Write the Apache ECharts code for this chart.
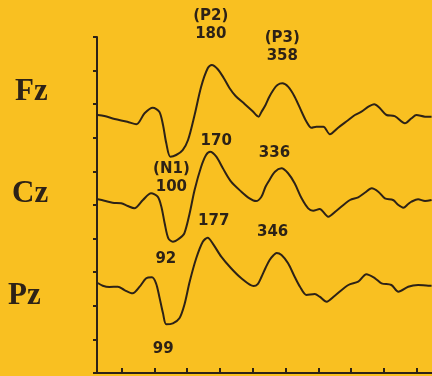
<!DOCTYPE html>
<html><head><meta charset="utf-8">
<script src="https://cdn.jsdelivr.net/npm/echarts@6/dist/echarts.min.js"></script>
<style>html,body{margin:0;padding:0;background:#F9C021}#c{width:432px;height:376px}</style>
</head><body><div id="c"></div>
<script>
// ---- data (latency in ms, amplitude in arbitrary µV units, positive up) ----
const channels = ['Fz', 'Cz', 'Pz'];

const fzTime = [-98, -82, -57, -26, -4, 16, 36, 52, 61, 69, 79, 93, 109, 122, 138, 154, 170, 180, 194, 209, 223, 238, 260, 279, 294, 301, 311, 320, 330, 340, 352, 366, 382, 399, 411, 423, 435, 452, 468, 488, 513, 529, 545, 562, 576, 590, 606, 626, 651, 667, 679, 700, 716];
const fzAmp  = [0, -0.13, -0.5, -0.84, -1.16, 0.21, 0.91, 0.41, -1.25, -3.54, -5.21, -5.0, -4.38, -3.13, 0, 3.54, 5.84, 6.25, 5.75, 4.63, 3.38, 2.38, 1.38, 0.5, -0.21, 0.38, 1.25, 2.25, 3.13, 3.75, 3.96, 3.54, 2.29, 0.41, -0.84, -1.59, -1.46, -1.46, -2.41, -1.59, -0.63, 0, 0.41, 1.04, 1.34, 0.84, 0, -0.13, -1.04, -0.41, 0, -0.21, -0.21];

const czTime = [-98, -82, -62, -41, -25, -9, 12, 32, 48, 57, 65, 74, 85, 101, 113, 126, 138, 154, 166, 176, 191, 207, 227, 252, 272, 288, 301, 311, 318, 334, 350, 366, 382, 399, 415, 427, 443, 464, 484, 517, 537, 553, 570, 586, 602, 622, 635, 647, 659, 667, 683, 700, 716];
const czAmp  = [0.09, -0.09, -0.34, -0.41, -0.75, -1.04, 0, 0.84, 0.41, -0.84, -2.91, -4.79, -5.21, -4.79, -4.16, -1.66, 1.25, 4.16, 5.63, 6.04, 5.41, 3.96, 2.29, 1.04, 0.21, -0.13, 0.41, 1.66, 2.29, 3.54, 3.96, 3.34, 2.09, 0.21, -1.04, -1.34, -1.13, -2.09, -1.34, 0, 0.34, 0.91, 1.46, 1.04, 0.21, 0, -0.63, -0.96, -0.5, -0.21, 0.09, -0.13, 0];

const pzTime = [-98, -86, -70, -49, -33, -13, 4, 20, 34, 44, 52, 61, 69, 85, 101, 113, 126, 142, 158, 170, 182, 203, 227, 252, 282, 292, 301, 311, 321, 331, 338, 350, 366, 382, 395, 411, 431, 443, 460, 480, 513, 537, 557, 578, 594, 618, 635, 659, 683, 708, 716];
const pzAmp  = [0, -0.34, -0.5, -0.46, -0.88, -1.29, -0.46, 0.59, 0.71, -0.04, -1.71, -3.79, -5.16, -5.04, -4.41, -2.75, 0.16, 3.09, 5.16, 5.66, 4.96, 3.29, 1.84, 0.59, -0.38, -0.13, 0.75, 1.88, 2.88, 3.5, 3.75, 3.5, 2.46, 0.79, -0.46, -1.5, -1.38, -1.71, -2.34, -1.59, -0.25, 0.16, 1.09, 0.59, -0.04, -0.25, -1.09, -0.46, -0.25, -0.34, -0.34];

// peak annotations (text and latency of the marked peak in the trace)
const fzNoteText = ['(P2)\n180', '(P3)\n358', '(N1)\n100'];
const fzNoteAt   = [180, 352, 79];
const czNoteText = ['170', '336', '92'];
const czNoteAt   = [176, 350, 85];
const pzNoteText = ['177', '346', '99'];
const pzNoteAt   = [170, 338, 69];

// axis ticks
const xTicks = [-40, 40, 120, 200, 280, 360, 440, 520, 600, 680];
const xMin = -100, xMax = 717;
const yTickCount = 10;

// ---- layout / style (not data) ----
const INK = '#2d2217';
const GRID = {left: 97, right: 0, top: 37, bottom: 3};
const PLOT_H = 376 - GRID.top - GRID.bottom;
const PX_PER_UV = 8;
const baselinePx = [115, 200, 283]; // baseline of each trace, from top of canvas
const labelPx = [[15, 92], [12, 194], [8, 296]];
const noteOffsets = [
  [[-1, -40], [0, -36], [1, 21]],
  [[6, -11], [-7, -15], [-7, 17]],
  [[6, -17], [-4, -21], [-3, 25]]
];

const traces = [
  {time: fzTime, amp: fzAmp, text: fzNoteText, at: fzNoteAt},
  {time: czTime, amp: czAmp, text: czNoteText, at: czNoteAt},
  {time: pzTime, amp: pzAmp, text: pzNoteText, at: pzNoteAt}
];

function ampAt(tr, t) {
  let best = 0, bd = Infinity;
  tr.time.forEach((v, i) => { const d = Math.abs(v - t); if (d < bd) { bd = d; best = i; } });
  return tr.amp[best];
}

const yAxes = [{
  type: 'value', min: 0, max: yTickCount, interval: 1, position: 'left',
  axisLine: {show: true, onZero: false, lineStyle: {color: INK, width: 2}},
  axisTick: {show: true, inside: false, length: 4, lineStyle: {color: INK, width: 2}},
  axisLabel: {show: false}, splitLine: {show: false}
}];
traces.forEach((tr, k) => {
  const top = baselinePx[k] - GRID.top;
  yAxes.push({
    type: 'value', show: false, position: 'right',
    min: -(PLOT_H - top) / PX_PER_UV, max: top / PX_PER_UV,
    splitLine: {show: false}
  });
});

const series = traces.map((tr, k) => ({
  type: 'line', xAxisIndex: 0, yAxisIndex: k + 1,
  data: tr.time.map((t, i) => [t, tr.amp[i]]),
  showSymbol: false, smooth: 0.3, clip: false,
  lineStyle: {color: INK, width: 2},
  silent: true,
  markPoint: {
    symbol: 'circle', symbolSize: 1, silent: true,
    itemStyle: {color: 'rgba(0,0,0,0)'},
    data: tr.text.map((txt, j) => ({
      coord: [tr.at[j], ampAt(tr, tr.at[j])],
      label: {
        show: true, position: 'inside', formatter: txt, offset: noteOffsets[k][j],
        color: INK, fontFamily: 'DejaVu Sans', fontWeight: 'bold', fontSize: 15,
        lineHeight: 18, align: 'center', verticalAlign: 'middle'
      }
    }))
  }
}));

const chart = echarts.init(document.getElementById('c'), null, {renderer: 'canvas'});
chart.setOption({
  animation: false,
  backgroundColor: '#F9C021',
  grid: GRID,
  xAxis: {
    type: 'value', min: xMin, max: xMax,
    axisLine: {show: true, onZero: false, lineStyle: {color: INK, width: 2}},
    axisTick: {show: true, inside: true, length: 5, customValues: xTicks, lineStyle: {color: INK, width: 2}},
    axisLabel: {show: false}, splitLine: {show: false}
  },
  yAxis: yAxes,
  series: series,
  graphic: channels.map((name, k) => ({
    type: 'text', left: labelPx[k][0], top: labelPx[k][1] - 16,
    style: {text: name, fill: INK, font: 'bold 31px "Liberation Serif", serif'}
  }))
});
</script>
</body></html>
